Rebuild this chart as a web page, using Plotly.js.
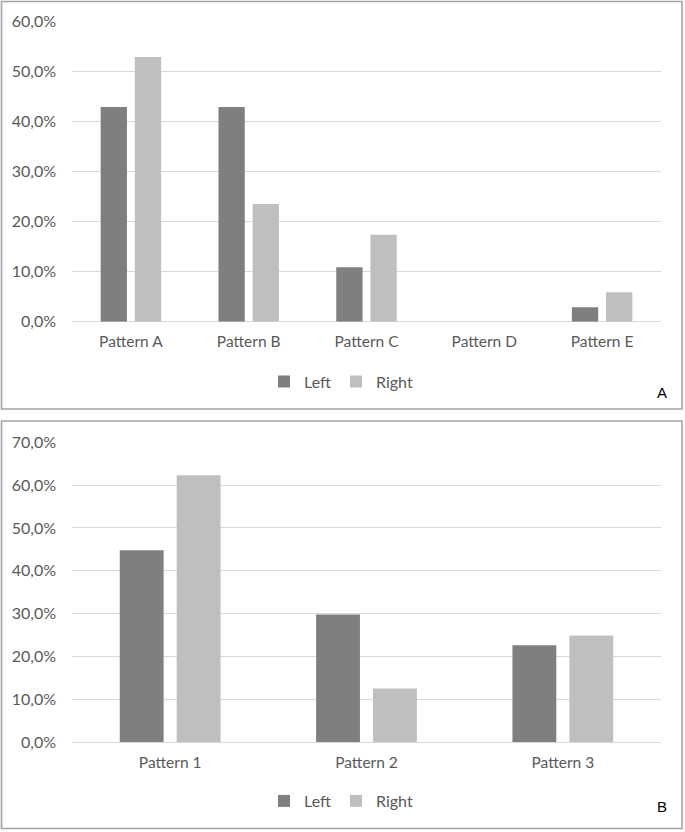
<!DOCTYPE html>
<html>
<head>
<meta charset="utf-8">
<script src="https://cdn.plot.ly/plotly-3.0.1.min.js"></script>
<style>
html,body{margin:0;padding:0;background:#fff;}
#chart{width:685px;height:832px;}
</style>
</head>
<body>
<div id="chart"></div>
<script>
// Panel A data
const categoriesA = ['Pattern A', 'Pattern B', 'Pattern C', 'Pattern D', 'Pattern E'];
const leftA = [0.429, 0.429, 0.109, 0.0, 0.029];
const rightA = [0.529, 0.235, 0.174, 0.0, 0.059];
// Panel B data
const categoriesB = ['Pattern 1', 'Pattern 2', 'Pattern 3'];
const leftB = [0.448, 0.298, 0.226];
const rightB = [0.623, 0.125, 0.249];
const seriesNames = ['Left', 'Right'];
const panelLabels = ['A', 'B'];

const W = 685, H = 832;
const px = x => x / W;
const py = y => 1 - y / H;

const cLeft = '#7f7f7f', cRight = '#bfbfbf';
const fontFam = 'Lato, "Open Sans", sans-serif';
const txtCol = '#595959';

const traces = [
  {type: 'bar', x: categoriesA, y: leftA, name: seriesNames[0], marker: {color: cLeft}, xaxis: 'x', yaxis: 'y', legend: 'legend'},
  {type: 'bar', x: categoriesA, y: rightA, name: seriesNames[1], marker: {color: cRight}, xaxis: 'x', yaxis: 'y', legend: 'legend'},
  {type: 'bar', x: categoriesB, y: leftB, name: seriesNames[0], marker: {color: cLeft}, xaxis: 'x2', yaxis: 'y2', legend: 'legend2'},
  {type: 'bar', x: categoriesB, y: rightB, name: seriesNames[1], marker: {color: cRight}, xaxis: 'x2', yaxis: 'y2', legend: 'legend2'}
];

const xCommon = {
  domain: [px(72), px(661)],
  showgrid: false, zeroline: false, showline: false,
  ticks: '', ticklabelstandoff: 9,
  tickfont: {family: fontFam, size: 15.5, color: txtCol},
  fixedrange: true
};
const yCommon = {
  showgrid: true, gridcolor: '#d9d9d9', gridwidth: 1,
  zeroline: true, zerolinecolor: '#d9d9d9', zerolinewidth: 1,
  showline: false, ticks: '', ticklabelstandoff: 15,
  tickformat: '.1%', dtick: 0.1,
  tickfont: {family: fontFam, size: 16, color: txtCol},
  fixedrange: true
};

const legendFont = {family: fontFam, size: 16, color: txtCol};

const layout = {
  width: W, height: H,
  margin: {l: 0, r: 0, t: 0, b: 0},
  paper_bgcolor: '#ffffff', plot_bgcolor: '#ffffff',
  separators: ', ',
  showlegend: true,
  bargap: 0.42, bargroupgap: 0.23, barmode: 'group',
  xaxis: Object.assign({}, xCommon, {anchor: 'y'}),
  yaxis: Object.assign({}, yCommon, {domain: [py(321.7), py(21.5)], range: [0, 0.6], anchor: 'x'}),
  xaxis2: Object.assign({}, xCommon, {anchor: 'y2'}),
  yaxis2: Object.assign({}, yCommon, {domain: [py(742.1), py(442.3)], range: [0, 0.7], anchor: 'x2'}),
  legend: {orientation: 'h', x: px(341), y: py(381.5), xanchor: 'center', yanchor: 'middle',
    font: legendFont, itemwidth: 30, bgcolor: 'rgba(0,0,0,0)'},
  legend2: {orientation: 'h', x: px(341), y: py(801), xanchor: 'center', yanchor: 'middle',
    font: legendFont, itemwidth: 30, bgcolor: 'rgba(0,0,0,0)'},
  shapes: [
    {type: 'rect', xref: 'paper', yref: 'paper', x0: px(1.5), x1: px(682), y0: py(1.5), y1: py(409),
      line: {color: '#a3a3a3', width: 1.6}, fillcolor: 'rgba(0,0,0,0)', layer: 'above'},
    {type: 'rect', xref: 'paper', yref: 'paper', x0: px(1.5), x1: px(682), y0: py(421), y1: py(828.5),
      line: {color: '#a3a3a3', width: 1.6}, fillcolor: 'rgba(0,0,0,0)', layer: 'above'}
  ],
  annotations: [
    {text: panelLabels[0], xref: 'paper', yref: 'paper', x: px(661.5), y: py(392.5), xanchor: 'center', yanchor: 'middle',
      showarrow: false, font: {family: 'Liberation Sans, Arial, sans-serif', size: 15, color: '#000'}},
    {text: panelLabels[1], xref: 'paper', yref: 'paper', x: px(662), y: py(806), xanchor: 'center', yanchor: 'middle',
      showarrow: false, font: {family: 'Liberation Sans, Arial, sans-serif', size: 15, color: '#000'}}
  ]
};

Plotly.newPlot('chart', traces, layout, {staticPlot: true, displayModeBar: false});
</script>
</body>
</html>
